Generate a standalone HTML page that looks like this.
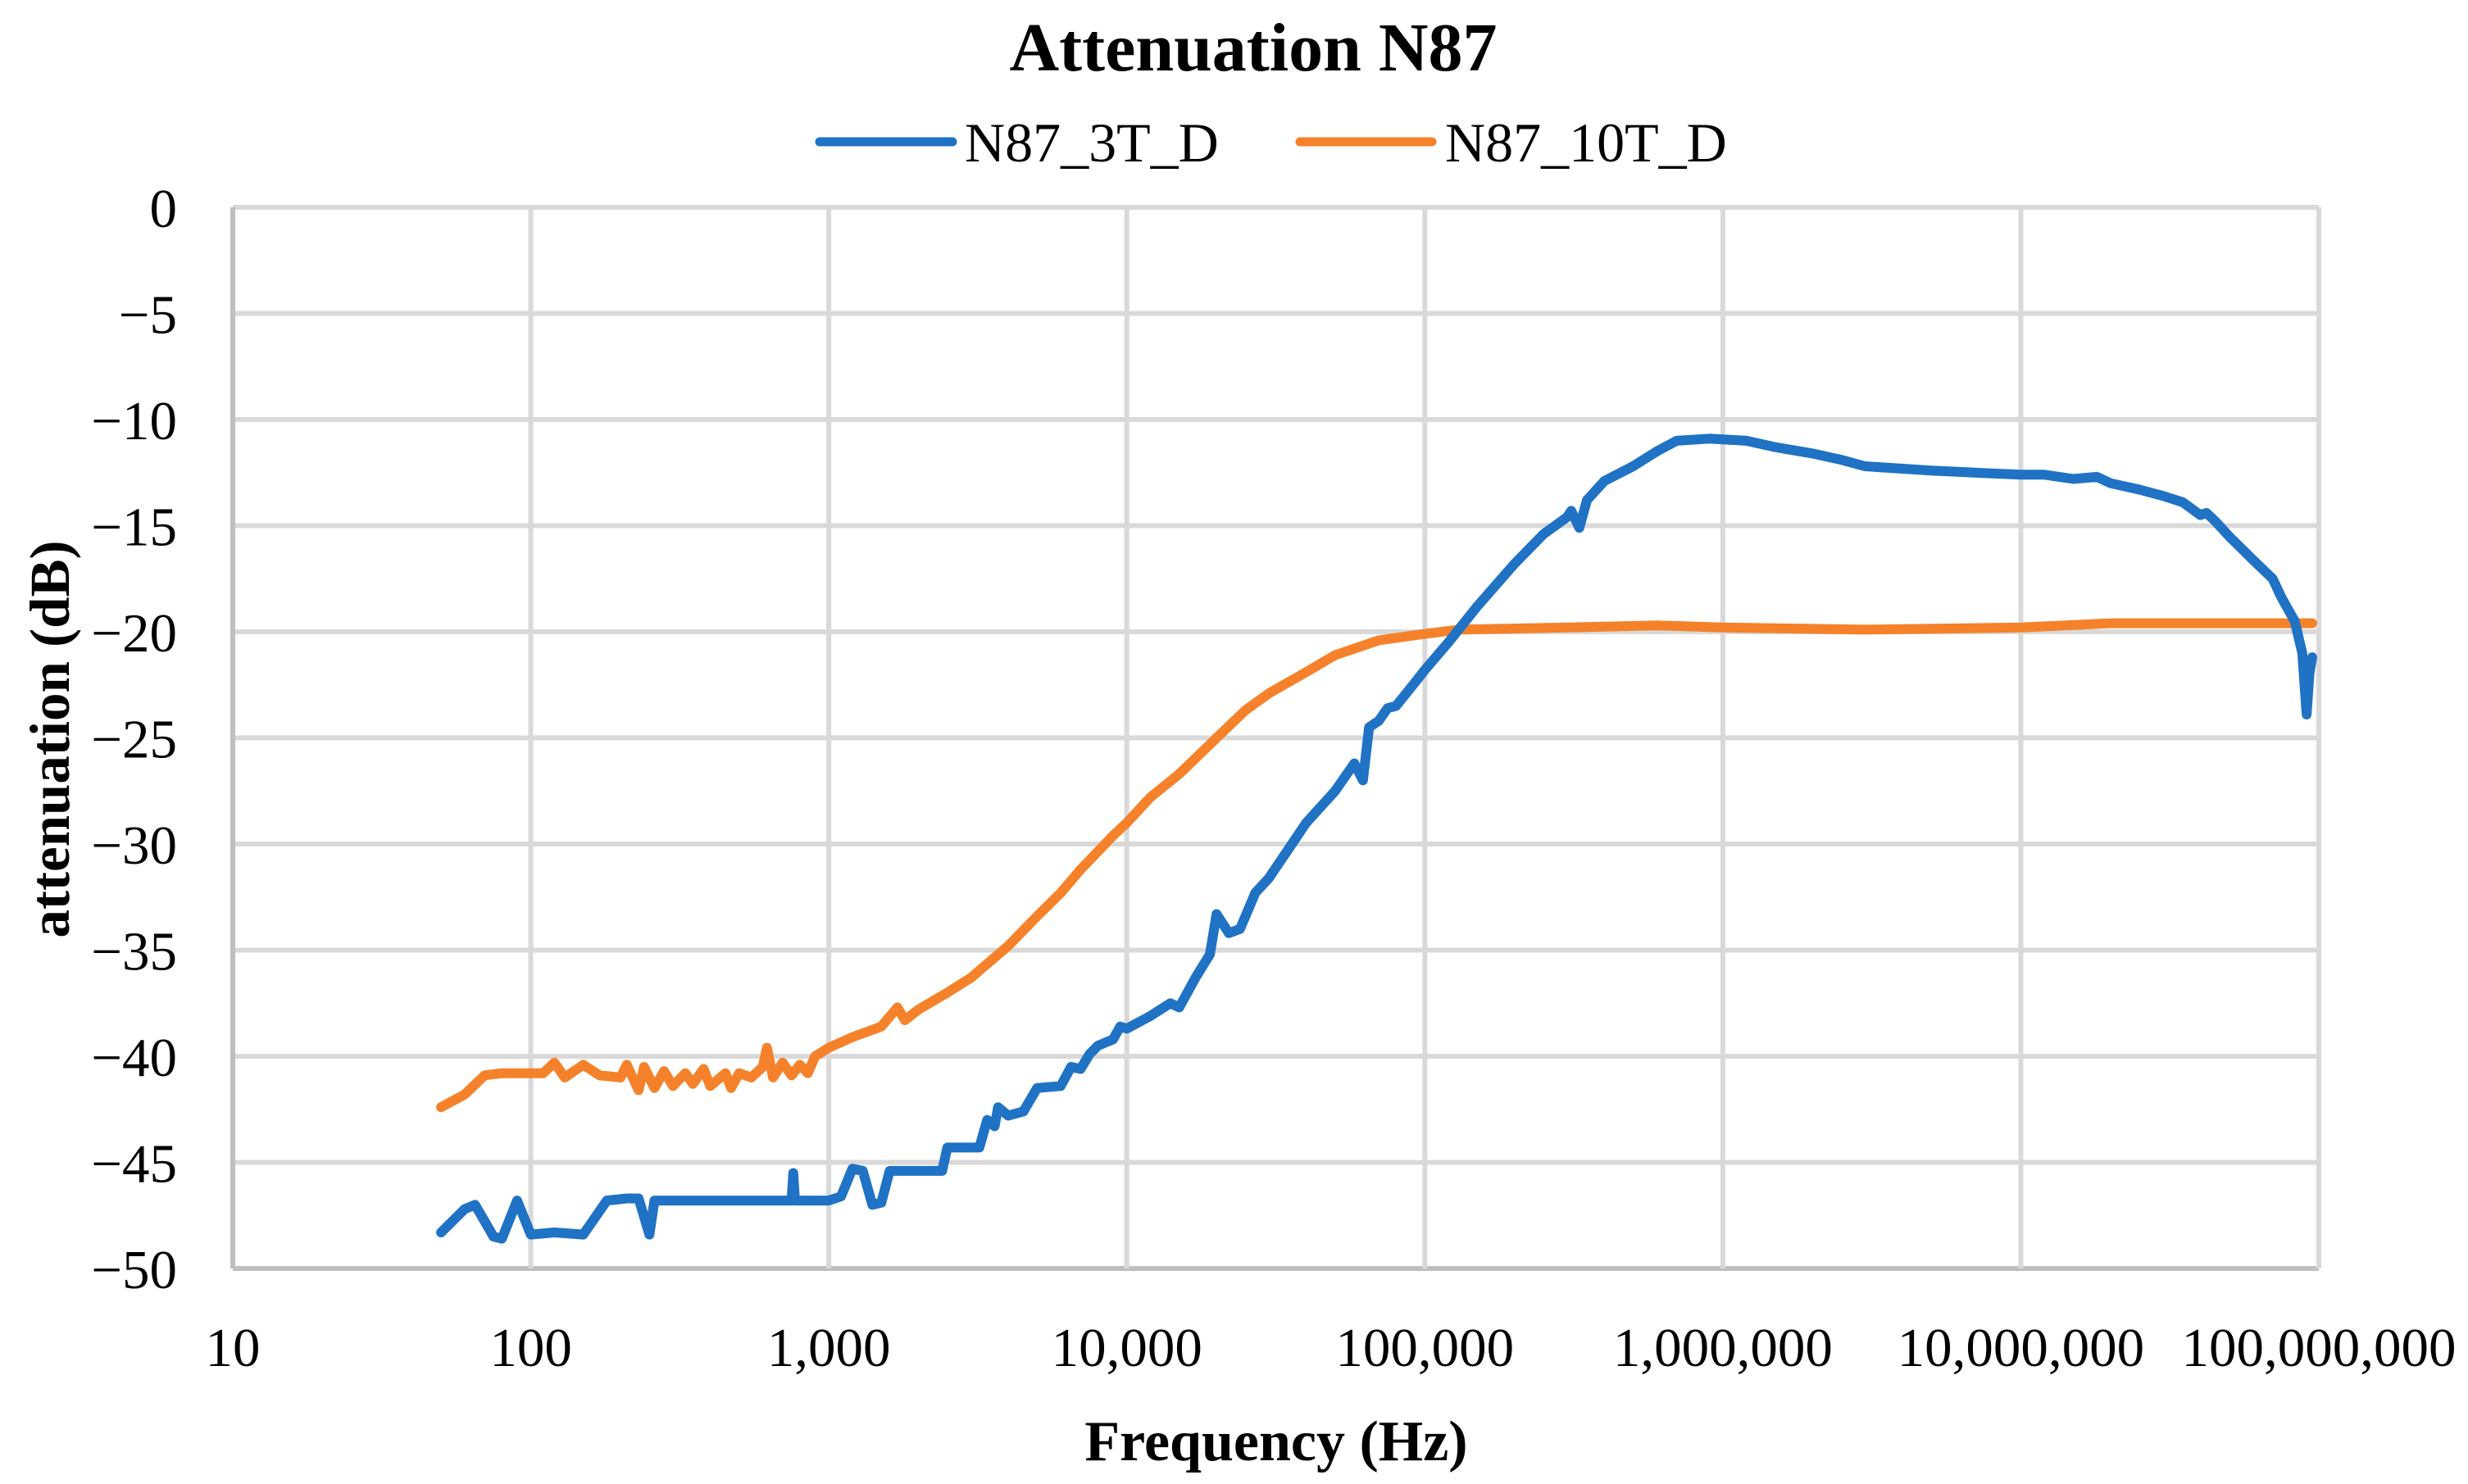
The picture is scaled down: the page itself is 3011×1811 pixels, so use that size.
<!DOCTYPE html>
<html><head><meta charset="utf-8">
<style>
html,body{margin:0;padding:0;background:#fff;}
svg{display:block;}
text{font-family:"Liberation Serif",serif;fill:#000;}
</style></head>
<body>
<svg id="chart" width="3011" height="1811" viewBox="0 0 3011 1811">
  <text x="1529" y="86" font-size="84" font-weight="bold" text-anchor="middle">Attenuation N87</text>
  <g>
    <g>
      <line x1="1000" y1="173" x2="1162" y2="173" stroke="#1f72c4" stroke-width="11" stroke-linecap="round"/>
      <text x="1177" y="197" font-size="68">N87_3T_D</text>
    </g>
    <g>
      <line x1="1586" y1="173" x2="1747" y2="173" stroke="#f5822a" stroke-width="11" stroke-linecap="round"/>
      <text x="1763" y="197" font-size="68">N87_10T_D</text>
    </g>
  </g>
  <g id="grid"></g>
  <g id="yticks"></g>
  <g id="xticks"></g>
  <g id="series"></g>
  <text x="1557" y="1782" font-size="70" font-weight="bold" text-anchor="middle">Frequency (Hz)</text>
  <text transform="translate(84,902) rotate(-90)" font-size="69" font-weight="bold" text-anchor="middle">attenuation (dB)</text>
</svg>
<script>
const xTickValues = [10,100,1000,10000,100000,1000000,10000000,100000000];
const xTickLabels = ["10","100","1,000","10,000","100,000","1,000,000","10,000,000","100,000,000"];
const yTickValues = [0,-5,-10,-15,-20,-25,-30,-35,-40,-45,-50];
const yTickLabels = ["0","\u22125","\u221210","\u221215","\u221220","\u221225","\u221230","\u221235","\u221240","\u221245","\u221250"];

const blueFreq = [50,60,65,75,80,90,100,120,150,180,210,230,250,260,300,500,750,760,770,1000,1100,1200,1300,1400,1500,1600,2400,2500,3200,3400,3600,3700,4000,4500,5000,6000,6500,7000,7500,8000,9000,9500,10000,12000,14000,15000,17000,19000,20000,22000,24000,27000,30000,40000,50000,58000,62000,65000,70000,75000,80000,95000,100000,120000,150000,200000,250000,300000,310000,330000,350000,400000,500000,600000,700000,900000,1200000,1500000,2000000,2500000,3000000,5000000,7000000,10000000,12000000,15000000,18000000,20000000,25000000,30000000,35000000,40000000,42000000,45000000,50000000,60000000,70000000,75000000,83000000,88000000,91000000,93000000,95000000];
const blueDb = [-48.3,-47.2,-47,-48.5,-48.6,-46.8,-48.4,-48.3,-48.4,-46.8,-46.7,-46.7,-48.4,-46.8,-46.8,-46.8,-46.8,-45.5,-46.8,-46.8,-46.6,-45.3,-45.4,-47,-46.9,-45.4,-45.4,-44.3,-44.3,-43,-43.3,-42.4,-42.8,-42.6,-41.5,-41.4,-40.5,-40.6,-39.9,-39.5,-39.2,-38.6,-38.7,-38.1,-37.5,-37.7,-36.3,-35.2,-33.3,-34.2,-34,-32.3,-31.6,-29,-27.5,-26.2,-27,-24.5,-24.2,-23.6,-23.5,-22.2,-21.8,-20.5,-18.8,-16.8,-15.4,-14.6,-14.3,-15.1,-13.8,-12.9,-12.2,-11.5,-11.0,-10.9,-11.0,-11.3,-11.6,-11.9,-12.2,-12.4,-12.5,-12.6,-12.6,-12.8,-12.7,-13.0,-13.3,-13.6,-13.9,-14.5,-14.4,-14.8,-15.5,-16.6,-17.5,-18.4,-19.5,-21,-23.9,-22,-21.2];

const orangeFreq = [50,60,70,80,110,120,130,150,170,200,210,230,240,260,280,300,330,350,380,400,450,470,500,550,600,620,650,700,750,800,850,900,1000,1200,1500,1700,1800,2000,2500,3000,4000,5000,6000,7000,9000,10000,12000,15000,20000,25000,30000,40000,50000,70000,100000,130000,300000,600000,1000000,3000000,10000000,20000000,50000000,95000000];
const orangeDb = [-42.4,-41.8,-40.9,-40.8,-40.8,-40.3,-41.0,-40.4,-40.9,-41,-40.4,-41.6,-40.5,-41.5,-40.7,-41.4,-40.8,-41.3,-40.6,-41.4,-40.8,-41.5,-40.8,-41,-40.5,-39.6,-41,-40.3,-40.9,-40.4,-40.8,-40,-39.6,-39.1,-38.6,-37.7,-38.3,-37.8,-37,-36.3,-34.8,-33.4,-32.3,-31.2,-29.6,-29,-27.8,-26.7,-25,-23.7,-22.9,-21.9,-21.1,-20.4,-20.1,-19.9,-19.8,-19.7,-19.8,-19.9,-19.8,-19.6,-19.6,-19.6];

const X0=284, X1=2829, Y0=253, Y1=1548;
function xs(f){return X0+(Math.log10(f)-1)/7*(X1-X0);}
function ys(v){return Y0+(0-v)/50*(Y1-Y0);}
const NS="http://www.w3.org/2000/svg";
const grid=document.getElementById('grid');
const yt=document.getElementById('yticks');
const xt=document.getElementById('xticks');
const ser=document.getElementById('series');

yTickValues.forEach((v,i)=>{
  const l=document.createElementNS(NS,'line');
  l.setAttribute('x1',X0);l.setAttribute('x2',X1);
  l.setAttribute('y1',ys(v));l.setAttribute('y2',ys(v));
  l.setAttribute('stroke',v===-50?'#bfbfbf':'#d9d9d9');l.setAttribute('stroke-width','6');
  
  
  grid.appendChild(l);
  const t=document.createElementNS(NS,'text');
  t.setAttribute('x',216);t.setAttribute('y',ys(v)+24);
  t.setAttribute('font-size','67');t.setAttribute('text-anchor','end');
  t.textContent=yTickLabels[i];
  
  
  yt.appendChild(t);
});
xTickValues.forEach((v,i)=>{
  const l=document.createElementNS(NS,'line');
  l.setAttribute('x1',xs(v));l.setAttribute('x2',xs(v));
  l.setAttribute('y1',Y0);l.setAttribute('y2',Y1);
  l.setAttribute('stroke',i===0?'#bfbfbf':'#d9d9d9');l.setAttribute('stroke-width','6');
  
  
  grid.appendChild(l);
  const t=document.createElementNS(NS,'text');
  t.setAttribute('x',xs(v));t.setAttribute('y',1667);
  t.setAttribute('font-size','67');t.setAttribute('text-anchor','middle');
  t.textContent=xTickLabels[i];
  
  
  xt.appendChild(t);
});
function drawLine(fr,db,color,name){
  const p=document.createElementNS(NS,'polyline');
  p.setAttribute('points',fr.map((f,i)=>xs(f).toFixed(1)+','+ys(db[i]).toFixed(1)).join(' '));
  p.setAttribute('fill','none');p.setAttribute('stroke',color);
  p.setAttribute('stroke-width','12');p.setAttribute('stroke-linejoin','round');p.setAttribute('stroke-linecap','round');
  
  
  ser.appendChild(p);
}
drawLine(orangeFreq,orangeDb,'#f5822a','series-n87-10t-d');
drawLine(blueFreq,blueDb,'#1f72c4','series-n87-3t-d');
</script>
</body></html>
